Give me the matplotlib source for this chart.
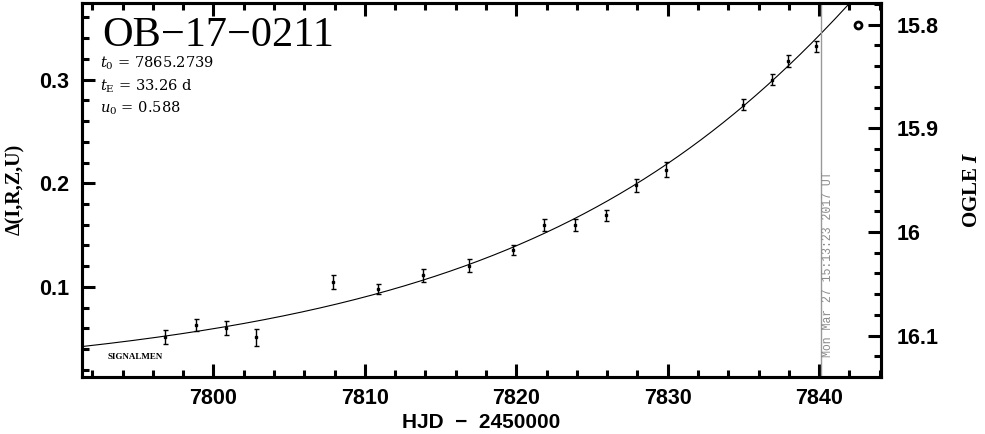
import numpy as np
import matplotlib
matplotlib.use('Agg')
import matplotlib.pyplot as plt
from matplotlib.ticker import MultipleLocator

# event parameters (from the panel text)
event_name = 'OB\u221217\u22120211'
t0 = 7865.2739
tE = 33.26
u0 = 0.588
I_base = 16.153

# photometry: HJD-2450000, delta mag, error
hjd = [7796.81, 7798.84, 7800.84, 7802.82, 7807.87, 7810.85, 7813.82, 7816.86,
       7819.80, 7821.85, 7823.88, 7825.95, 7827.91, 7829.89, 7834.95, 7836.88,
       7837.96, 7839.80]
dmag = [0.0517, 0.0636, 0.0604, 0.0515, 0.1048, 0.0984, 0.1112, 0.1206,
        0.1360, 0.1598, 0.1598, 0.1691, 0.1981, 0.2132, 0.2760, 0.3001,
        0.3178, 0.3322]
err = [0.0063, 0.0058, 0.0068, 0.0082, 0.0072, 0.0048, 0.0063, 0.0063,
       0.0048, 0.0060, 0.0055, 0.0053, 0.0063, 0.0072, 0.0053, 0.0053,
       0.0056, 0.0053]

# OGLE point at the right edge
ogle_t = [7842.56]
ogle_I = [15.80]

now_hjd = 7840.134
now_text = 'Mon Mar 27 15:13:23 2017 UT'

xlim = (7791.32, 7844.08)
ylim = (0.0131, 0.3744)

plt.rcParams['mathtext.fontset'] = 'custom'
plt.rcParams['mathtext.rm'] = 'DejaVu Serif'
plt.rcParams['mathtext.it'] = 'DejaVu Serif:italic'
plt.rcParams['mathtext.bf'] = 'Liberation Serif:bold'
plt.rcParams['mathtext.bfit'] = 'Liberation Serif:italic:bold'

fig = plt.figure(figsize=(9.85, 4.34), dpi=100)
ax = fig.add_axes([0.0832, 0.1313, 0.8112, 0.8629])
ax2 = ax.twinx()

# Paczynski model in magnitudes
t = np.linspace(xlim[0], xlim[1], 800)
u = np.sqrt(u0**2 + ((t - t0) / tE)**2)
A = (u**2 + 2) / (u * np.sqrt(u**2 + 4))
ax.plot(t, 2.5 * np.log10(A), color='black', lw=0.8)

ax.errorbar(hjd, dmag, yerr=err, fmt='s', ms=2.0, color='black',
            elinewidth=1.0, capsize=1.8, capthick=1.0)

ax.axvline(now_hjd, color='#999999', lw=1.0)
ax.text(now_hjd + 0.45, 0.053, now_text, rotation=90, ha='center', va='bottom',
        color='#8c8c8c', fontsize=8.3, family='Liberation Mono',
        transform=ax.get_xaxis_transform())

ax2.plot(ogle_t, ogle_I, 'o', ms=5, mfc='none', mec='black', mew=2)

ax.set_xlim(xlim)
ax.set_ylim(ylim)
ax2.set_ylim(I_base - ylim[0], I_base - ylim[1])

ax.xaxis.set_major_locator(MultipleLocator(10))
ax.xaxis.set_minor_locator(MultipleLocator(2))
ax.yaxis.set_major_locator(MultipleLocator(0.1))
ax.yaxis.set_minor_locator(MultipleLocator(0.02))
ax2.set_yticks([15.8, 15.9, 16.0, 16.1])
ax2.set_yticklabels(['15.8', '15.9', '16', '16.1'])
ax2.yaxis.set_minor_locator(MultipleLocator(0.02))

tick_font = dict(family='Liberation Sans', weight='bold', size=15.5)
ax.tick_params(which='both', direction='in', top=True, right=False, width=2.2)
ax.tick_params(which='major', length=9.4)
ax.tick_params(which='minor', length=4.8)
ax.tick_params(axis='y', pad=9)
ax.tick_params(axis='x', pad=8)
ax2.tick_params(which='both', direction='in', width=2.2)
ax2.tick_params(which='major', length=9.4, pad=11)
ax2.tick_params(which='minor', length=4.8)
for lab in ax.get_xticklabels() + ax.get_yticklabels() + ax2.get_yticklabels():
    lab.set_fontproperties(tick_font)
for a in (ax, ax2):
    for s in a.spines.values():
        s.set_linewidth(2.2)

ax.set_xlabel('HJD  \u2212  2450000', family='Liberation Sans', weight='bold',
              size=15, labelpad=3)
ax.set_ylabel('\u0394(I,R,Z,U)', family='Liberation Serif', weight='bold',
              size=14.5, labelpad=10)
ax2.set_ylabel(r'OGLE $\mathbfit{I}$', family='Liberation Serif', weight='bold',
               size=15, labelpad=17, rotation=90)

ax.text(0.026, 0.884, event_name, transform=ax.transAxes, family='Liberation Serif',
        size=30.5, va='baseline')
ax.text(0.0225, 0.825, r'$t_0$ = 7865.2739', transform=ax.transAxes,
        family='DejaVu Serif', size=10.5, va='baseline')
ax.text(0.0225, 0.764, r'$t_{\rm E}$ = 33.26 d', transform=ax.transAxes,
        family='DejaVu Serif', size=10.5, va='baseline')
ax.text(0.0225, 0.705, r'$u_0$ = 0.588', transform=ax.transAxes,
        family='DejaVu Serif', size=10.5, va='baseline')
ax.text(0.0325, 0.048, 'SIGNALMEN', transform=ax.transAxes,
        family='Liberation Serif', size=6.5, weight='bold', va='baseline')

fig.savefig('out.png', dpi=100)
